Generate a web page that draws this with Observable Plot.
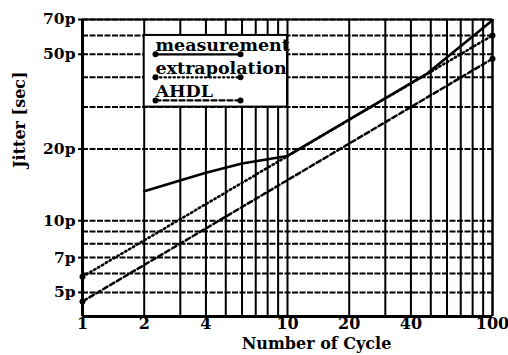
<!DOCTYPE html>
<html>
<head>
<meta charset="utf-8">
<script src="https://cdn.jsdelivr.net/npm/d3@7"></script>
<script src="https://cdn.jsdelivr.net/npm/@observablehq/plot@0.6"></script>
<style>
  html, body { margin: 0; padding: 0; background: white; }
</style>
</head>
<body>
<div id="chart"></div>
<script>
// ---- data (jitter in ps vs number of cycles) ----
const measurementCycles = [2, 4, 6, 10, 48, 100];
const measurementJitter = [13.3, 15.9, 17.4, 18.7, 41.5, 69.5];
const extrapolationCycles = [1, 100];
const extrapolationJitter = [5.82, 60];
const ahdlCycles = [1, 100];
const ahdlJitter = [4.58, 47.9];

// ---- axes ----
const xTickLabels = [1, 2, 4, 10, 20, 40, 100];
const yTickLabels = [5, 7, 10, 20, 50, 70];
const xGridValues = [1, 2, 3, 4, 5, 6, 7, 8, 9, 10, 20, 30, 40, 50, 60, 70, 80, 90, 100];
const yGridValues = [5, 6, 7, 8, 9, 10, 20, 30, 40, 50, 60, 70];
const xDomain = [1, 100];
const yDomain = [3.96, 70];

// ---- legend ----
const legendLabels = ["measurement", "extrapolation", "AHDL"];
const legendLevels = [50, 40, 32];
const legendFrom = 2.27;
const legendTo = 5.9;
const legendBoxX = [2, 10];
const legendBoxY = [30, 60];

const toRows = (xs, ys) => xs.map((x, i) => ({x, y: ys[i]}));
const meas = toRows(measurementCycles, measurementJitter);
const extra = toRows(extrapolationCycles, extrapolationJitter);
const ahdl = toRows(ahdlCycles, ahdlJitter);
const legendRows = legendLabels.map((label, i) => ({label, y: legendLevels[i], x1: legendFrom, x2: legendTo}));
const DOTTED = "1.5,3";
const DASHED = "5,3";
const legendDash = ["none", DOTTED, DASHED];

const legendLineMarks = legendRows.map((r, i) =>
  Plot.line([{x: r.x1, y: r.y}, {x: r.x2, y: r.y}], {x: "x", y: "y", stroke: "black", strokeWidth: 2.2, strokeDasharray: legendDash[i]})
);

const chart = Plot.plot({
  width: 508,
  height: 355,
  marginLeft: 82,
  marginRight: 16,
  marginTop: 19,
  marginBottom: 39,
  style: {fontFamily: "DejaVu Serif", fontWeight: "bold", fontSize: "15px", background: "white", color: "black"},
  x: {type: "log", domain: xDomain, axis: null},
  y: {type: "log", domain: yDomain},
  marks: [
    Plot.ruleX(xGridValues, {stroke: "black", strokeWidth: 2}),
    Plot.ruleY(yGridValues, {stroke: "black", strokeWidth: 2, strokeDasharray: "6,1.5"}),
    Plot.rect([{}], {x1: () => legendBoxX[0], x2: () => legendBoxX[1], y1: () => legendBoxY[0], y2: () => legendBoxY[1], fill: "white", stroke: "black", strokeWidth: 2}),
    Plot.line(meas, {x: "x", y: "y", stroke: "black", strokeWidth: 2.6}),
    Plot.line(extra, {x: "x", y: "y", stroke: "black", strokeWidth: 2.6, strokeDasharray: DOTTED}),
    Plot.line(ahdl, {x: "x", y: "y", stroke: "black", strokeWidth: 2.5, strokeDasharray: DASHED}),
    Plot.dot(extra, {x: "x", y: "y", r: 3, fill: "black"}),
    Plot.dot(ahdl, {x: "x", y: "y", r: 3, fill: "black"}),
    ...legendLineMarks,
    Plot.dot(legendRows, {x: "x1", y: "y", r: 3, fill: "black"}),
    Plot.dot(legendRows, {x: "x2", y: "y", r: 3, fill: "black"}),
    Plot.text(legendRows, {x: "x1", y: "y", text: "label", textAnchor: "start", lineAnchor: "bottom", dy: -3, fontSize: 17.5, fill: "black"}),
    Plot.ruleX([xDomain[0]], {stroke: "black", strokeWidth: 3}),
    Plot.ruleX([xDomain[1]], {stroke: "black", strokeWidth: 2}),
    Plot.ruleY([yDomain[0]], {stroke: "black", strokeWidth: 3}),
    Plot.ruleY([yDomain[1]], {stroke: "black", strokeWidth: 2}),
    Plot.axisY(yTickLabels, {tickSize: 4, strokeWidth: 2, label: null, tickFormat: () => ""}),
    Plot.text(yTickLabels, {y: d => d, frameAnchor: "left", textAnchor: "end", dx: -7, fontSize: 15.5, fill: "black", text: d => d + "p"}),
    Plot.text(xTickLabels, {x: d => d, frameAnchor: "bottom", lineAnchor: "top", dy: 1, fontSize: 16, fill: "black", text: d => String(d)}),
    Plot.text(["Number of Cycle"], {frameAnchor: "bottom", lineAnchor: "bottom", dy: 32, dx: 29, fontSize: 16, fill: "black"}),
    Plot.text(["Jitter [sec]"], {frameAnchor: "left", rotate: -90, dx: -63, fontSize: 16, fill: "black"})
  ]
});
document.getElementById("chart").appendChild(chart);
</script>
</body>
</html>
